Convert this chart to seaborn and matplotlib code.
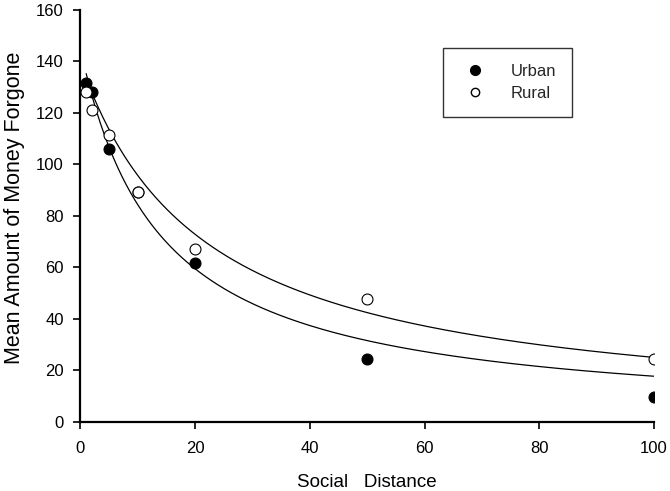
import numpy as np
import pandas as pd
import matplotlib
matplotlib.use("Agg")
import matplotlib.pyplot as plt
import seaborn as sns
from matplotlib.lines import Line2D

# Data
social_distance = [1, 2, 5, 10, 20, 50, 100]
urban = [131.8, 128.3, 105.9, 89.2, 61.8, 24.2, 9.6]
rural = [128.3, 121.1, 111.4, 89.3, 67.0, 47.7, 24.4]

# Hyperbolic fit parameters (v = V / (1 + k*N))
urban_fit = {"V": 145.0, "k": 0.072}
rural_fit = {"V": 139.5, "k": 0.0458}

sns.set_theme(style="white")
plt.rcParams['font.family'] = ['Liberation Sans', 'DejaVu Sans']

fig = plt.figure(figsize=(6.7, 4.91), dpi=100)
ax = fig.add_axes([0.1201, 0.1411, 0.8559, 0.8385])

df = pd.DataFrame({
    "Social Distance": social_distance * 2,
    "Amount": urban + rural,
    "Group": ["Urban"] * len(urban) + ["Rural"] * len(rural),
})

xs = np.linspace(1, 100, 400)
curves = pd.DataFrame({
    "x": np.concatenate([xs, xs]),
    "y": np.concatenate([urban_fit["V"] / (1 + urban_fit["k"] * xs),
                         rural_fit["V"] / (1 + rural_fit["k"] * xs)]),
    "Group": ["Urban"] * len(xs) + ["Rural"] * len(xs),
})

sns.lineplot(data=curves, x="x", y="y", units="Group", estimator=None,
             color="black", linewidth=0.9, ax=ax, legend=False)

sub_u = df[df.Group == "Urban"]
sub_r = df[df.Group == "Rural"]
sns.scatterplot(data=sub_u, x="Social Distance", y="Amount", color="black",
                edgecolor="black", s=62, linewidth=0.8, ax=ax, legend=False, zorder=3)
sns.scatterplot(data=sub_r, x="Social Distance", y="Amount", color="white",
                edgecolor="black", s=62, linewidth=0.8, ax=ax, legend=False, zorder=4)

ax.set_xlim(0, 100)
ax.set_ylim(0, 160)
ax.set_xticks([0, 20, 40, 60, 80, 100])
ax.set_yticks(range(0, 161, 20))
ax.tick_params(axis="both", direction="out", length=5, width=1.2, color="black",
               labelsize=12, labelcolor="black", bottom=True, left=True, pad=7)
ax.tick_params(axis="x", pad=9)
for side in ["top", "right"]:
    ax.spines[side].set_visible(False)
for side in ["left", "bottom"]:
    ax.spines[side].set_color("black")
    ax.spines[side].set_linewidth(1.6)

ax.set_xlabel("Social   Distance", fontsize=13.5, color="black", labelpad=13)
ax.set_ylabel("Mean Amount of Money Forgone", fontsize=15.5, color="black", labelpad=6.5)
ax.yaxis.set_label_coords(-0.096, 0.52)

handles = [
    Line2D([], [], marker="o", linestyle="none", markerfacecolor="black",
           markeredgecolor="black", markersize=7),
    Line2D([], [], marker="o", linestyle="none", markerfacecolor="white",
           markeredgecolor="black", markersize=6),
]
leg = ax.legend(handles, ["Urban", "Rural"], loc="upper left",
                bbox_to_anchor=(443.3 / 670, 1 - 48.3 / 491), bbox_transform=fig.transFigure,
                fontsize=12, frameon=True, fancybox=False, borderpad=0.93,
                handletextpad=1.13, labelspacing=0.44, borderaxespad=0)
leg.get_frame().set_edgecolor("black")
leg.get_frame().set_linewidth(1.0)

fig.savefig("out.png", dpi=100)
